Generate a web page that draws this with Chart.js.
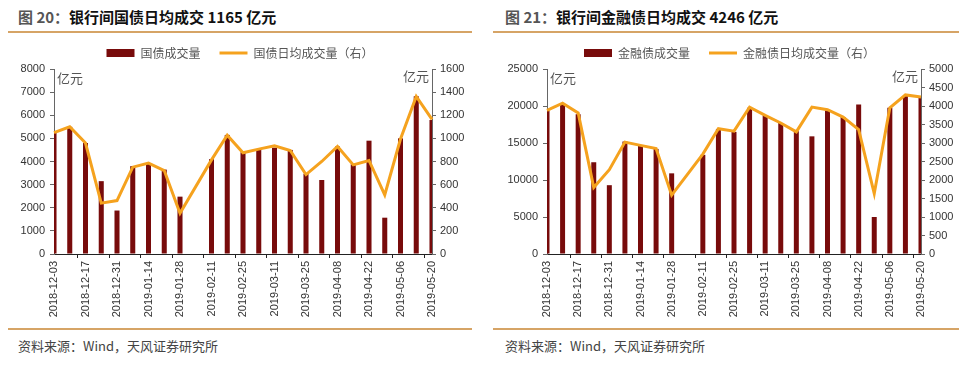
<!DOCTYPE html>
<html>
<head>
<meta charset="utf-8">
<script src="https://cdn.jsdelivr.net/npm/chart.js@4.4.1/dist/chart.umd.min.js"></script>
<style>
    body { margin: 0; background: #fff; }
    #page { position: relative; width: 969px; height: 366px; overflow: hidden; font-family: "Noto Sans CJK SC", sans-serif; }
    .titulo { position: absolute; top: 6px; font-size: 15px; font-weight: bold; color: #111; white-space: nowrap; line-height: 22px; }
    .titulo span { color: #555; }
    .regua { position: absolute; height: 2px; background: #d6a466; }
    .fonte { position: absolute; top: 337px; font-size: 13px; color: #444; white-space: nowrap; line-height: 18px; }
    canvas { position: absolute; }
</style>
</head>
<body>
<div id="page">
    <div class="titulo" style="left:18px"><span>图 20：</span>银行间国债日均成交 1165 亿元</div>
    <div class="regua" style="left:8px; width:464px; top:31px"></div>
    <canvas id="graficoGov" width="480" height="296" style="left:0; top:28px"></canvas>
    <div class="regua" style="left:8px; width:464px; top:328px"></div>
    <div class="fonte" style="left:18px">资料来源：Wind，天风证券研究所</div>

    <div class="titulo" style="left:505px"><span>图 21：</span>银行间金融债日均成交 4246 亿元</div>
    <div class="regua" style="left:493px; width:466px; top:31px"></div>
    <canvas id="graficoFin" width="479" height="296" style="left:490px; top:28px"></canvas>
    <div class="regua" style="left:493px; width:466px; top:328px"></div>
    <div class="fonte" style="left:505px">资料来源：Wind，天风证券研究所</div>
</div>
<script>
const semanas = ["2018-12-03", "2018-12-10", "2018-12-17", "2018-12-24", "2018-12-31", "2019-01-07", "2019-01-14",
    "2019-01-21", "2019-01-28", "2019-02-04", "2019-02-11", "2019-02-18", "2019-02-25", "2019-03-04", "2019-03-11",
    "2019-03-18", "2019-03-25", "2019-04-01", "2019-04-08", "2019-04-15", "2019-04-22", "2019-04-29", "2019-05-06",
    "2019-05-13", "2019-05-20"];

// 国债 (亿元)
const govVolume = [5250, 5500, 4800, 3150, 1880, 3800, 3900, 3650, 2480, null, 4100, 5150, 4400, 4500, 4600,
    4500, 3470, 3200, 4650, 3880, 4900, 1570, 5000, 6820, 5800];
const govMedia = [1050, 1100, 960, 440, 462, 751, 786, 722, 352, null, 814, 1028, 875, 907, 936,
    895, 687, 800, 930, 771, 809, 511, 994, 1363, 1165];

// 金融债 (亿元)
const finVolume = [19400, 20300, 18900, 12400, 9300, 15200, 14700, 14200, 10900, null, 13400, 16900, 16500, 19750, 18700,
    17700, 16600, 15900, 19400, 18500, 20200, 5000, 19750, 21400, 21300];
const finMedia = [3880, 4075, 3810, 1800, 2280, 3025, 2935, 2850, 1590, null, 2700, 3385, 3320, 3970, 3745,
    3540, 3300, 3970, 3900, 3700, 3360, 1635, 3950, 4300, 4246];

const corBarra = "#780b0b";
const corLinha = "#f5a21e";
const fonteTicks = { family: "'Liberation Sans', Arial, sans-serif", size: 11 };

// escreve "亿元" dentro da área do gráfico
const unidadePlugin = {
    id: "unidade",
    afterDraw(chart) {
        let area = chart.chartArea;
        let ctx = chart.ctx;
        ctx.save();
        ctx.font = "13px 'Noto Sans CJK SC'";
        ctx.fillStyle = "#555";
        ctx.textBaseline = "middle";
        ctx.textAlign = "left";
        ctx.fillText("亿元", area.left + 3, area.top + 9);
        ctx.textAlign = "right";
        ctx.fillText("亿元", area.right - 3, area.top + 7);
        ctx.restore();
    }
};

function criarGrafico(id, labelBarra, barras, labelLinha, linha, yMax, yStep, y1Max, y1Step, larguraEsq) {
    let ctx = document.getElementById(id).getContext("2d");
    return new Chart(ctx, {
        type: "bar",
        data: {
            labels: semanas,
            datasets: [{
                label: labelBarra,
                data: barras,
                backgroundColor: corBarra,
                borderWidth: 0,
                barPercentage: 0.32,
                categoryPercentage: 1,
                pointStyle: "rect",
                yAxisID: "y",
                order: 1
            }, {
                type: "line",
                label: labelLinha,
                data: linha,
                borderColor: corLinha,
                backgroundColor: corLinha,
                borderWidth: 3,
                pointRadius: 0,
                pointStyle: "line",
                tension: 0,
                spanGaps: true,
                yAxisID: "y1",
                order: 0
            }]
        },
        options: {
            responsive: false,
            animation: false,
            devicePixelRatio: 1,
            layout: { padding: 0 },
            scales: {
                x: {
                    offset: false,
                    afterFit: s => { s.height = 70; },
                    grid: {
                        drawOnChartArea: false,
                        tickLength: 4,
                        tickColor: c => c.index % 2 === 0 ? "#222" : "transparent"
                    },
                    border: { color: "#222" },
                    ticks: {
                        autoSkip: false,
                        minRotation: 90,
                        maxRotation: 90,
                        padding: 3,
                        color: "#333",
                        font: fonteTicks,
                        callback: function (value, index) {
                            return index % 2 === 0 ? this.getLabelForValue(value) : "";
                        }
                    }
                },
                y: {
                    position: "left",
                    min: 0,
                    max: yMax,
                    afterFit: s => { s.width = larguraEsq; },
                    grid: { drawOnChartArea: false, tickLength: 4, tickColor: "#666" },
                    border: { color: "#666" },
                    ticks: { stepSize: yStep, padding: 5, color: "#333", font: fonteTicks, callback: v => String(v) }
                },
                y1: {
                    position: "right",
                    min: 0,
                    max: y1Max,
                    afterFit: s => { s.width = 48; },
                    grid: { drawOnChartArea: false, tickLength: 4, tickColor: "#666" },
                    border: { color: "#666" },
                    ticks: { stepSize: y1Step, padding: 4, color: "#333", font: fonteTicks, callback: v => String(v) }
                }
            },
            plugins: {
                legend: {
                    position: "top",
                    labels: {
                        usePointStyle: true,
                        pointStyleWidth: 28,
                        boxHeight: 8,
                        padding: 19,
                        color: "#555",
                        font: { family: "'Noto Sans CJK SC'", size: 12 },
                        sort: (a, b) => a.datasetIndex - b.datasetIndex
                    }
                },
                tooltip: { enabled: false }
            }
        },
        plugins: [unidadePlugin]
    });
}

criarGrafico("graficoGov", "国债成交量", govVolume, "国债日均成交量（右）", govMedia, 8000, 1000, 1600, 200, 54);
criarGrafico("graficoFin", "金融债成交量", finVolume, "金融债日均成交量（右）", finMedia, 25000, 5000, 5000, 500, 57);
</script>
</body>
</html>
